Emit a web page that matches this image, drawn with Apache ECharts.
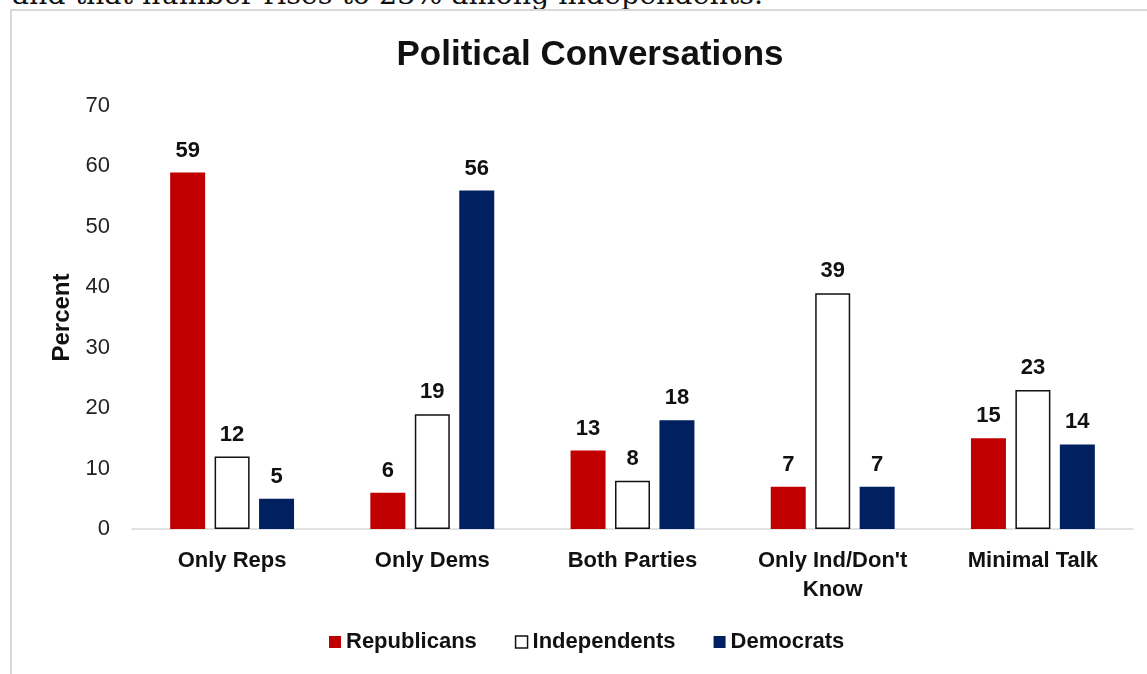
<!DOCTYPE html>
<html>
<head>
<meta charset="utf-8">
<script src="https://cdn.jsdelivr.net/npm/echarts@6/dist/echarts.min.js"></script>
<style>
  html, body { margin: 0; padding: 0; background: #fff; overflow: hidden; }
  #lead {
    position: absolute; left: 12px; top: -22px;
    font-family: "DejaVu Serif", "Liberation Serif", serif;
    font-size: 28.5px; color: #111; white-space: nowrap;
  }
  #frame {
    position: absolute; left: 10px; top: 9px; width: 1160px; height: 700px;
    border: 2px solid #d9d9d9; box-sizing: border-box;
  }
  #chart { position: absolute; left: 0; top: 0; width: 1147px; height: 674px; }
</style>
</head>
<body>
<div id="lead">and that number rises to 23% among independents.</div>
<div id="frame"></div>
<div id="chart"></div>
<script>
const categories = ['Only Reps', 'Only Dems', 'Both Parties', "Only Ind/Don't\nKnow", 'Minimal Talk']
const republicans = [59, 6, 13, 7, 15]
const independents = [12, 19, 8, 39, 23]
const democrats = [5, 56, 18, 7, 14]
const yTicks = [0, 10, 20, 30, 40, 50, 60, 70]

const font = 'Liberation Sans, Arial, sans-serif'
const chart = echarts.init(document.getElementById('chart'))

const labelStyle = {
  show: true,
  position: 'top',
  distance: 11,
  color: '#111',
  fontSize: 22,
  fontWeight: 'bold',
  fontFamily: font
}

const option = {
  animation: false,
  title: {
    text: 'Political Conversations',
    left: 585,
    textAlign: 'center',
    top: 33,
    textStyle: { fontSize: 35, fontWeight: 'bold', color: '#111', fontFamily: font }
  },
  legend: {
    bottom: 16,
    left: 324,
    itemWidth: 12,
    itemHeight: 12,
    itemGap: 38,
    textStyle: { fontSize: 22, fontWeight: 'bold', color: '#111', fontFamily: font },
    data: [
      { name: 'Republicans', icon: 'rect' },
      { name: 'Independents', icon: 'rect', itemStyle: { color: '#fff', borderColor: '#111', borderWidth: 1.5 } },
      { name: 'Democrats', icon: 'rect' }
    ]
  },
  grid: { left: 132, right: 14, top: 106, bottom: 145 },
  xAxis: {
    type: 'category',
    data: categories,
    axisLine: { lineStyle: { color: '#d9d9d9', width: 1.5 } },
    axisTick: { show: false },
    axisLabel: {
      margin: 17,
      fontSize: 22,
      fontWeight: 'bold',
      color: '#111',
      lineHeight: 29,
      fontFamily: font
    }
  },
  yAxis: {
    type: 'value',
    min: yTicks[0],
    max: yTicks[yTicks.length - 1],
    interval: 10,
    name: 'Percent',
    nameLocation: 'middle',
    nameGap: 58,
    nameTextStyle: { fontSize: 24, fontWeight: 'bold', color: '#111', fontFamily: font },
    axisLine: { show: false },
    axisTick: { show: false },
    splitLine: { show: false },
    axisLabel: { margin: 22, fontSize: 22, color: '#222', fontFamily: font }
  },
  series: [
    {
      name: 'Republicans',
      type: 'bar',
      data: republicans,
      barWidth: 35,
      barGap: '27%',
      itemStyle: { color: '#C00000' },
      label: labelStyle
    },
    {
      name: 'Independents',
      type: 'bar',
      data: independents,
      barWidth: 35,
      barGap: '27%',
      itemStyle: { color: '#fff', borderColor: '#111', borderWidth: 1.5 },
      label: labelStyle
    },
    {
      name: 'Democrats',
      type: 'bar',
      data: democrats,
      barWidth: 35,
      barGap: '27%',
      itemStyle: { color: '#002060' },
      label: labelStyle
    }
  ]
}

chart.setOption(option)
</script>
</body>
</html>
